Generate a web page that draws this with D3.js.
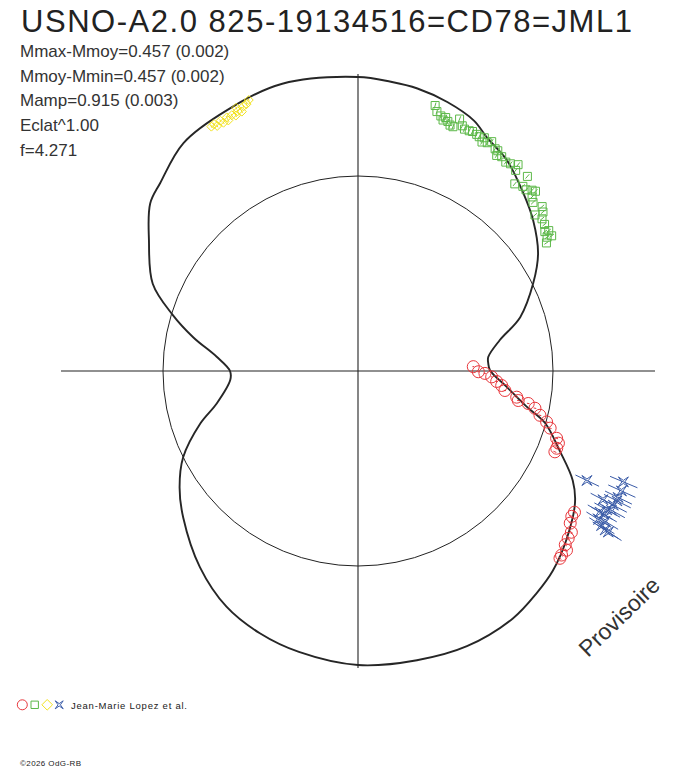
<!DOCTYPE html>
<html>
<head>
<meta charset="utf-8">
<script src="https://cdn.jsdelivr.net/npm/d3@7"></script>
<style>
	body { margin: 0; background: #fff; }
	svg text { font-family: "Liberation Sans", Arial, sans-serif; fill: #222; }
</style>
</head>
<body>
<svg id="chart" width="688" height="768"></svg>
<script>
// ---- texts ----
const title = "USNO-A2.0 825-19134516=CD78=JML1";
const statLines = [
	"Mmax-Mmoy=0.457 (0.002)",
	"Mmoy-Mmin=0.457 (0.002)",
	"Mamp=0.915 (0.003)",
	"Eclat^1.00",
	"f=4.271"
];
const observer = "Jean-Marie Lopez et al.";
const credit = "\u00a92026 OdG-RB";
const stamp = "Provisoire";

// amplitude (mag, relative to Mmoy)
const magBright = -0.457;

// ---- fitted light curve: phase / magnitude relative to Mmoy ----
const modelPhase = [0.000, 0.018, 0.033, 0.051, 0.069, 0.080, 0.098, 0.119, 0.137, 0.158,
	0.176, 0.199, 0.216, 0.233, 0.241, 0.249, 0.267, 0.283, 0.293, 0.310,
	0.325, 0.337, 0.358, 0.377, 0.392, 0.411, 0.440, 0.468, 0.500, 0.533,
	0.557, 0.581, 0.608, 0.639, 0.658, 0.677, 0.699, 0.714, 0.739, 0.750,
	0.766, 0.782, 0.797, 0.814, 0.839, 0.858, 0.871, 0.896, 0.926, 0.959];
const modelMag = [-0.446, -0.435, -0.426, -0.406, -0.377, -0.341, -0.304, -0.239, -0.184, -0.106,
	-0.006, 0.143, 0.322, 0.432, 0.436, 0.424, 0.288, 0.136, 0.006, -0.116,
	-0.230, -0.287, -0.345, -0.389, -0.412, -0.438, -0.453, -0.450, -0.446, -0.420,
	-0.393, -0.353, -0.278, -0.170, -0.096, 0.000, 0.175, 0.322, 0.457, 0.457,
	0.344, 0.162, 0.006, -0.146, -0.255, -0.341, -0.365, -0.420, -0.438, -0.457];

// ---- observations ----
const redPhase = [0.244, 0.251, 0.253, 0.257, 0.262, 0.266, 0.271, 0.276, 0.279, 0.280,
	0.283, 0.288, 0.292, 0.296, 0.302, 0.305, 0.309, 0.312,
	0.342, 0.345, 0.349, 0.353, 0.357, 0.361, 0.363, 0.367, 0.369];
const redMag = [0.570, 0.524, 0.466, 0.409, 0.367, 0.326, 0.298, 0.209, 0.195, 0.128,
	0.082, 0.044, -0.002, -0.030, -0.079, -0.096, -0.097, -0.095,
	-0.306, -0.306, -0.317, -0.343, -0.348, -0.355, -0.373, -0.371, -0.375];

const greenPhase = [0.045, 0.047, 0.050, 0.053, 0.052, 0.055, 0.057, 0.059, 0.061, 0.064,
	0.066, 0.069, 0.071, 0.074, 0.076, 0.079, 0.079, 0.082, 0.084, 0.088,
	0.090, 0.091, 0.094, 0.098, 0.101, 0.105, 0.106, 0.114, 0.111, 0.116,
	0.119, 0.122, 0.124, 0.125, 0.128, 0.134, 0.135, 0.137, 0.140, 0.144,
	0.149, 0.148, 0.153, 0.155, 0.152];
const greenMag = [-0.379, -0.358, -0.346, -0.346, -0.333, -0.334, -0.323, -0.321, -0.360, -0.339,
	-0.330, -0.332, -0.335, -0.332, -0.328, -0.314, -0.334, -0.322, -0.335, -0.317,
	-0.316, -0.297, -0.304, -0.295, -0.301, -0.317, -0.292, -0.304, -0.244, -0.259,
	-0.257, -0.274, -0.281, -0.253, -0.239, -0.256, -0.207, -0.243, -0.220, -0.213,
	-0.211, -0.194, -0.208, -0.169, -0.187];

const yellowPhase = [0.914, 0.916, 0.917, 0.920, 0.921, 0.924, 0.924, 0.927, 0.929, 0.931,
	0.933, 0.935, 0.937, 0.939, 0.931];
const yellowMag = [-0.412, -0.415, -0.403, -0.414, -0.402, -0.414, -0.401, -0.413, -0.405, -0.417,
	-0.409, -0.425, -0.428, -0.439, -0.431];

const bluePhase = [0.321, 0.313, 0.318, 0.322, 0.327, 0.324, 0.327, 0.331, 0.334, 0.330,
	0.334, 0.338, 0.337, 0.340, 0.341, 0.341];
const blueMag = [-0.286, -0.422, -0.429, -0.428, -0.380, -0.430, -0.425, -0.412, -0.393, -0.428,
	-0.410, -0.403, -0.428, -0.425, -0.445, -0.459];

// error of one measure, per series (mag)
const seriesErr = { red: 0.008, green: 0.012, yellow: 0.006, blue: 0.056 };
const seriesColor = { red: "#e8373c", green: "#5cb848", yellow: "#f2e21c", blue: "#3b5ca8" };

// ---- layout ----
const CX = 358, CY = 371;
const R_MEAN = 195; // radius of the mean-magnitude circle

const svg = d3.select("#chart");

// phase -> angle (clockwise from top), magnitude -> flux -> radius
const angle = d3.scaleLinear().domain([0, 1]).range([0, 2 * Math.PI]);
const flux = d3.scaleLinear().domain([0, 1]).range([0, R_MEAN]);
const radius = m => flux(Math.pow(10, -0.4 * m));

const plot = svg.append("g").attr("transform", `translate(${CX},${CY})`);

drawFrame();
drawModel();
drawSeries("red", redPhase, redMag, circle);
drawSeries("green", greenPhase, greenMag, square);
drawSeries("yellow", yellowPhase, yellowMag, diamond);
drawSeries("blue", bluePhase, blueMag, star);
drawTexts();
drawLegend();

/** axes and mean circle */
function drawFrame() {
	const rAxis = radius(magBright);
	[0, 0.25].forEach(p => {
		const a = d3.pointRadial(angle(p), rAxis);
		const b = d3.pointRadial(angle(p + 0.5), rAxis);
		plot.append("line")
			.attr("x1", a[0]).attr("y1", a[1])
			.attr("x2", b[0]).attr("y2", b[1])
			.attr("stroke", "#222").attr("stroke-width", 1.1);
	});

	plot.append("circle")
		.attr("r", radius(0))
		.attr("fill", "none")
		.attr("stroke", "#222")
		.attr("stroke-width", 1);
} // function drawFrame()

/** fitted curve */
function drawModel() {
	const pts = modelPhase.map((p, i) => ({ p: p, m: modelMag[i] }));
	const line = d3.lineRadial()
		.angle(d => angle(d.p))
		.radius(d => radius(d.m))
		.curve(d3.curveCatmullRomClosed.alpha(0.5));

	plot.append("path")
		.datum(pts)
		.attr("d", line)
		.attr("fill", "none")
		.attr("stroke", "#262626")
		.attr("stroke-width", 1.9);
} // function drawModel()

/** one observer series with radial error bars */
function drawSeries(key, phases, mags, shape) {
	const col = seriesColor[key];
	const err = seriesErr[key];
	const g = plot.append("g").attr("class", "series-" + key);
	const data = phases.map((p, i) => ({ p: p, m: mags[i] }));

	g.selectAll(".err").data(data).enter().append("line")
		.attr("class", "err")
		.attr("x1", d => d3.pointRadial(angle(d.p), radius(d.m - err))[0])
		.attr("y1", d => d3.pointRadial(angle(d.p), radius(d.m - err))[1])
		.attr("x2", d => d3.pointRadial(angle(d.p), radius(d.m + err))[0])
		.attr("y2", d => d3.pointRadial(angle(d.p), radius(d.m + err))[1])
		.attr("stroke", col).attr("stroke-width", 1);

	g.selectAll(".mark").data(data).enter().append("path")
		.attr("class", "mark")
		.attr("transform", d => {
			const xy = d3.pointRadial(angle(d.p), radius(d.m));
			return `translate(${xy[0]},${xy[1]})`;
		})
		.attr("d", shape())
		.attr("fill", "none")
		.attr("stroke", col)
		.attr("stroke-width", 1);
} // function drawSeries(...)

// ---- symbols ----
function circle(s = 6) {
	return `M${s},0A${s},${s} 0 1,1 ${-s},0A${s},${s} 0 1,1 ${s},0Z`;
}
function square(s = 4) {
	return `M${-s},${-s}H${s}V${s}H${-s}Z`;
}
function diamond(s = 4.5) {
	return `M0,${-s}L${s},0L0,${s}L${-s},0Z`;
}
function star(s = 5) {
	const i = s * 0.3;
	return `M${-s},${-s}L0,${-i}L${s},${-s}L${i},0L${s},${s}L0,${i}L${-s},${s}L${-i},0Z`;
}

/** title, stats, stamp, credit */
function drawTexts() {
	svg.append("text")
		.attr("x", 21).attr("y", 32)
		.attr("font-size", 31)
		.attr("textLength", 611)
		.attr("lengthAdjust", "spacing")
		.text(title);

	svg.selectAll(".stat").data(statLines).enter().append("text")
		.attr("class", "stat")
		.attr("x", 20)
		.attr("y", (d, i) => 57 + i * 24.7)
		.attr("font-size", 17)
		.style("fill", "#333")
		.text(d => d);

	svg.append("text")
		.attr("transform", "translate(588,658) rotate(-44)")
		.attr("font-size", 23)
		.style("fill", "#333")
		.text(stamp);

	svg.append("text")
		.attr("x", 20).attr("y", 766)
		.attr("font-size", 8)
		.attr("textLength", 61)
		.attr("lengthAdjust", "spacing")
		.text(credit);
} // function drawTexts()

/** symbol row + observer name */
function drawLegend() {
	const keys = [["red", circle, 22.3, 5], ["green", square, 34.7, 3.7],
		["yellow", diamond, 47.2, 5.3], ["blue", star, 59.2, 4]];
	keys.forEach(k => {
		svg.append("path")
			.attr("transform", `translate(${k[2]},704.8)`)
			.attr("d", k[1](k[3]))
			.attr("fill", "none")
			.attr("stroke", seriesColor[k[0]])
			.attr("stroke-width", 1);
	});
	svg.append("text")
		.attr("x", 71).attr("y", 709)
		.attr("font-size", 9.5)
		.attr("textLength", 116)
		.attr("lengthAdjust", "spacing")
		.text(observer);
} // function drawLegend()
</script>
</body>
</html>
